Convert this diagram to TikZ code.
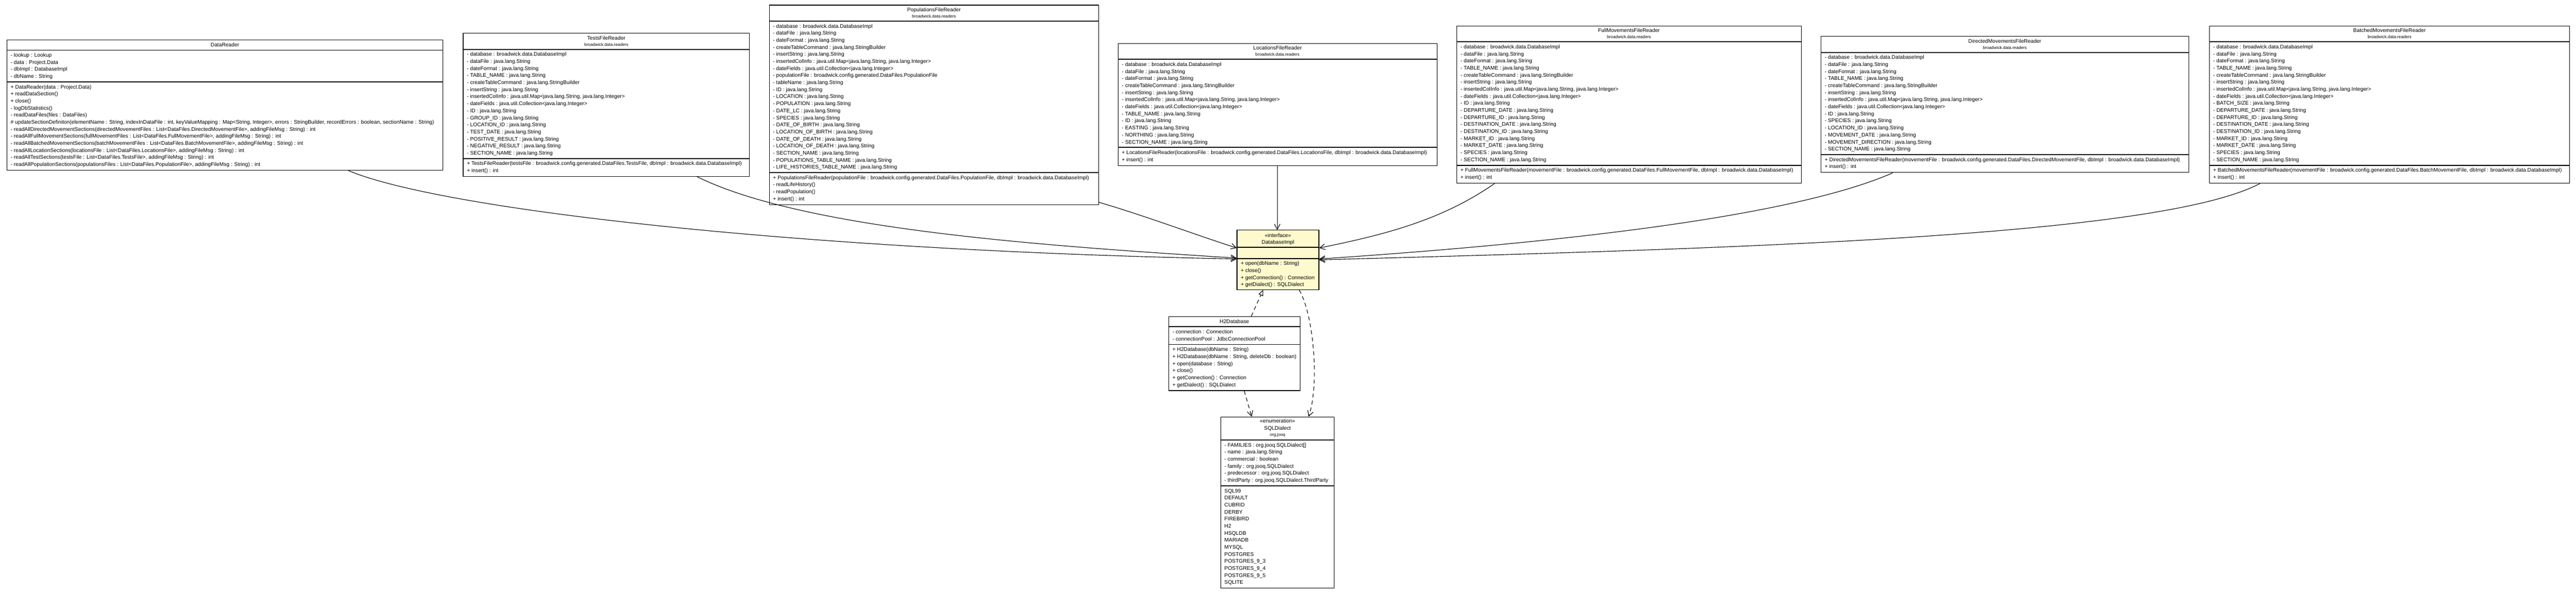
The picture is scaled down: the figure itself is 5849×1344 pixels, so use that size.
\documentclass[tikz,border=0pt]{standalone}
\usepackage{fontspec}
\setmainfont{Liberation Sans}
\usetikzlibrary{arrows.meta,calc}
\newcommand\sx{\strut}
\definecolor{ifyellow}{RGB}{255,250,205}
\begin{document}
\begin{tikzpicture}[x=1pt,y=-1pt,
  cls/.style={draw=black, line width=1.3pt, anchor=north west, inner sep=0pt, fill=white},
  dv/.style={line width=2.2pt},
  ttl/.style={anchor=base, inner sep=0pt, font=\fontsize{12}{16}\selectfont},
  pkg/.style={anchor=base, inner sep=0pt, font=\fontsize{9.6}{12}\selectfont},
  sec/.style={anchor=north west, inner sep=0pt, align=left, font=\fontsize{12}{16}\selectfont},
  assoc/.style={line width=1.3pt, -{Straight Barb[length=12pt,width=13pt,line width=1.3pt]}},
  dep/.style={assoc, dash pattern=on 9pt off 7pt},
  real/.style={line width=1.3pt, dash pattern=on 9pt off 7pt, -{Triangle[open,length=13pt,width=11pt,fill=white,line width=1.3pt]}}
]
\fill[white] (0,0) rectangle (5849,1344);
\useasboundingbox (0,0) rectangle (5849,1344);

% ---------------- DataReader
\node[cls,minimum width=990pt,minimum height=296pt] (dr) at (15,90) {};
\draw[dv] ([yshift=-24pt]dr.north west) -- ([yshift=-24pt]dr.north east);
\draw[dv] ([yshift=-96pt]dr.north west) -- ([yshift=-96pt]dr.north east);
\node[ttl] (dr-t) at ([yshift=-16.3pt]dr.north) {DataReader};
\node[sec] (dr-f) at ([xshift=9pt,yshift=-28pt]dr.north west) {\sx - lookup : Lookup\\\sx - data : Project.Data\\\sx - dbImpl : DatabaseImpl\\\sx - dbName : String};
\node[sec] (dr-m) at ([xshift=9pt,yshift=-100pt]dr.north west) {\sx + DataReader(data : Project.Data)\\
\sx + readDataSection()\\
\sx + close()\\
\sx - logDbStatistics()\\
\sx - readDataFiles(files : DataFiles)\\
\sx \# updateSectionDefiniton(elementName : String, indexInDataFile : int, keyValueMapping : Map<String, Integer>, errors : StringBuilder, recordErrors : boolean, sectionName : String)\\
\sx - readAllDirectedMovementSections(directedMovementFiles : List<DataFiles.DirectedMovementFile>, addingFileMsg : String) : int\\
\sx - readAllFullMovementSections(fullMovementFiles : List<DataFiles.FullMovementFile>, addingFileMsg : String) : int\\
\sx - readAllBatchedMovementSections(batchMovementFiles : List<DataFiles.BatchMovementFile>, addingFileMsg : String) : int\\
\sx - readAllLocationSections(locationsFile : List<DataFiles.LocationsFile>, addingFileMsg : String) : int\\
\sx - readAllTestSections(testsFile : List<DataFiles.TestsFile>, addingFileMsg : String) : int\\
\sx - readAllPopulationSections(populationsFiles : List<DataFiles.PopulationFile>, addingFileMsg : String) : int};

% ---------------- TestsFileReader
\node[cls,minimum width=650pt,minimum height=325pt] (tf) at (1051,75) {};
\draw[dv] ([yshift=-37pt]tf.north west) -- ([yshift=-37pt]tf.north east);
\draw[dv] ([yshift=-285pt]tf.north west) -- ([yshift=-285pt]tf.north east);
\node[ttl] (tf-t) at ([yshift=-15.3pt]tf.north) {TestsFileReader};
\node[pkg] (tf-p) at ([yshift=-29.4pt]tf.north) {broadwick.data.readers};
\node[sec] (tf-f) at ([xshift=9pt,yshift=-41pt]tf.north west) {\sx - database : broadwick.data.DatabaseImpl\\
\sx - dataFile : java.lang.String\\
\sx - dateFormat : java.lang.String\\
\sx - TABLE\_NAME : java.lang.String\\
\sx - createTableCommand : java.lang.StringBuilder\\
\sx - insertString : java.lang.String\\
\sx - insertedColInfo : java.util.Map<java.lang.String, java.lang.Integer>\\
\sx - dateFields : java.util.Collection<java.lang.Integer>\\
\sx - ID : java.lang.String\\
\sx - GROUP\_ID : java.lang.String\\
\sx - LOCATION\_ID : java.lang.String\\
\sx - TEST\_DATE : java.lang.String\\
\sx - POSITIVE\_RESULT : java.lang.String\\
\sx - NEGATIVE\_RESULT : java.lang.String\\
\sx - SECTION\_NAME : java.lang.String};
\node[sec] (tf-m) at ([xshift=9pt,yshift=-289pt]tf.north west) {\sx + TestsFileReader(testsFile : broadwick.config.generated.DataFiles.TestsFile, dbImpl : broadwick.data.DatabaseImpl)\\
\sx + insert() : int};

% ---------------- PopulationsFileReader
\node[cls,minimum width=748pt,minimum height=453pt] (pf) at (1746,11) {};
\draw[dv] ([yshift=-37pt]pf.north west) -- ([yshift=-37pt]pf.north east);
\draw[dv] ([yshift=-381pt]pf.north west) -- ([yshift=-381pt]pf.north east);
\node[ttl] (pf-t) at ([yshift=-15.3pt]pf.north) {PopulationsFileReader};
\node[pkg] (pf-p) at ([yshift=-29.4pt]pf.north) {broadwick.data.readers};
\node[sec] (pf-f) at ([xshift=9pt,yshift=-41pt]pf.north west) {\sx - database : broadwick.data.DatabaseImpl\\
\sx - dataFile : java.lang.String\\
\sx - dateFormat : java.lang.String\\
\sx - createTableCommand : java.lang.StringBuilder\\
\sx - insertString : java.lang.String\\
\sx - insertedColInfo : java.util.Map<java.lang.String, java.lang.Integer>\\
\sx - dateFields : java.util.Collection<java.lang.Integer>\\
\sx - populationFile : broadwick.config.generated.DataFiles.PopulationFile\\
\sx - tableName : java.lang.String\\
\sx - ID : java.lang.String\\
\sx - LOCATION : java.lang.String\\
\sx - POPULATION : java.lang.String\\
\sx - DATE\_LC : java.lang.String\\
\sx - SPECIES : java.lang.String\\
\sx - DATE\_OF\_BIRTH : java.lang.String\\
\sx - LOCATION\_OF\_BIRTH : java.lang.String\\
\sx - DATE\_OF\_DEATH : java.lang.String\\
\sx - LOCATION\_OF\_DEATH : java.lang.String\\
\sx - SECTION\_NAME : java.lang.String\\
\sx - POPULATIONS\_TABLE\_NAME : java.lang.String\\
\sx - LIFE\_HISTORIES\_TABLE\_NAME : java.lang.String};
\node[sec] (pf-m) at ([xshift=9pt,yshift=-385pt]pf.north west) {\sx + PopulationsFileReader(populationFile : broadwick.config.generated.DataFiles.PopulationFile, dbImpl : broadwick.data.DatabaseImpl)\\
\sx - readLifeHistory()\\
\sx - readPopulation()\\
\sx + insert() : int};

% ---------------- LocationsFileReader
\node[cls,minimum width=724pt,minimum height=277pt] (lf) at (2538,98) {};
\draw[dv] ([yshift=-37pt]lf.north west) -- ([yshift=-37pt]lf.north east);
\draw[dv] ([yshift=-237pt]lf.north west) -- ([yshift=-237pt]lf.north east);
\node[ttl] (lf-t) at ([yshift=-15.3pt]lf.north) {LocationsFileReader};
\node[pkg] (lf-p) at ([yshift=-29.4pt]lf.north) {broadwick.data.readers};
\node[sec] (lf-f) at ([xshift=9pt,yshift=-41pt]lf.north west) {\sx - database : broadwick.data.DatabaseImpl\\
\sx - dataFile : java.lang.String\\
\sx - dateFormat : java.lang.String\\
\sx - createTableCommand : java.lang.StringBuilder\\
\sx - insertString : java.lang.String\\
\sx - insertedColInfo : java.util.Map<java.lang.String, java.lang.Integer>\\
\sx - dateFields : java.util.Collection<java.lang.Integer>\\
\sx - TABLE\_NAME : java.lang.String\\
\sx - ID : java.lang.String\\
\sx - EASTING : java.lang.String\\
\sx - NORTHING : java.lang.String\\
\sx - SECTION\_NAME : java.lang.String};
\node[sec] (lf-m) at ([xshift=9pt,yshift=-241pt]lf.north west) {\sx + LocationsFileReader(locationsFile : broadwick.config.generated.DataFiles.LocationsFile, dbImpl : broadwick.data.DatabaseImpl)\\
\sx + insert() : int};

% ---------------- FullMovementsFileReader
\node[cls,minimum width=782pt,minimum height=357pt] (ff) at (3307,58) {};
\draw[dv] ([yshift=-37pt]ff.north west) -- ([yshift=-37pt]ff.north east);
\draw[dv] ([yshift=-317pt]ff.north west) -- ([yshift=-317pt]ff.north east);
\node[ttl] (ff-t) at ([yshift=-15.3pt]ff.north) {FullMovementsFileReader};
\node[pkg] (ff-p) at ([yshift=-29.4pt]ff.north) {broadwick.data.readers};
\node[sec] (ff-f) at ([xshift=9pt,yshift=-41pt]ff.north west) {\sx - database : broadwick.data.DatabaseImpl\\
\sx - dataFile : java.lang.String\\
\sx - dateFormat : java.lang.String\\
\sx - TABLE\_NAME : java.lang.String\\
\sx - createTableCommand : java.lang.StringBuilder\\
\sx - insertString : java.lang.String\\
\sx - insertedColInfo : java.util.Map<java.lang.String, java.lang.Integer>\\
\sx - dateFields : java.util.Collection<java.lang.Integer>\\
\sx - ID : java.lang.String\\
\sx - DEPARTURE\_DATE : java.lang.String\\
\sx - DEPARTURE\_ID : java.lang.String\\
\sx - DESTINATION\_DATE : java.lang.String\\
\sx - DESTINATION\_ID : java.lang.String\\
\sx - MARKET\_ID : java.lang.String\\
\sx - MARKET\_DATE : java.lang.String\\
\sx - SPECIES : java.lang.String\\
\sx - SECTION\_NAME : java.lang.String};
\node[sec] (ff-m) at ([xshift=9pt,yshift=-321pt]ff.north west) {\sx + FullMovementsFileReader(movementFile : broadwick.config.generated.DataFiles.FullMovementFile, dbImpl : broadwick.data.DatabaseImpl)\\
\sx + insert() : int};

% ---------------- DirectedMovementsFileReader
\node[cls,minimum width=835pt,minimum height=309pt] (df) at (4134,82) {};
\draw[dv] ([yshift=-37pt]df.north west) -- ([yshift=-37pt]df.north east);
\draw[dv] ([yshift=-269pt]df.north west) -- ([yshift=-269pt]df.north east);
\node[ttl] (df-t) at ([yshift=-15.3pt]df.north) {DirectedMovementsFileReader};
\node[pkg] (df-p) at ([yshift=-29.4pt]df.north) {broadwick.data.readers};
\node[sec] (df-f) at ([xshift=9pt,yshift=-41pt]df.north west) {\sx - database : broadwick.data.DatabaseImpl\\
\sx - dataFile : java.lang.String\\
\sx - dateFormat : java.lang.String\\
\sx - TABLE\_NAME : java.lang.String\\
\sx - createTableCommand : java.lang.StringBuilder\\
\sx - insertString : java.lang.String\\
\sx - insertedColInfo : java.util.Map<java.lang.String, java.lang.Integer>\\
\sx - dateFields : java.util.Collection<java.lang.Integer>\\
\sx - ID : java.lang.String\\
\sx - SPECIES : java.lang.String\\
\sx - LOCATION\_ID : java.lang.String\\
\sx - MOVEMENT\_DATE : java.lang.String\\
\sx - MOVEMENT\_DIRECTION : java.lang.String\\
\sx - SECTION\_NAME : java.lang.String};
\node[sec] (df-m) at ([xshift=9pt,yshift=-273pt]df.north west) {\sx + DirectedMovementsFileReader(movementFile : broadwick.config.generated.DataFiles.DirectedMovementFile, dbImpl : broadwick.data.DatabaseImpl)\\
\sx + insert() : int};

% ---------------- BatchedMovementsFileReader
\node[cls,minimum width=818pt,minimum height=357pt] (bf) at (5016,58) {};
\draw[dv] ([yshift=-37pt]bf.north west) -- ([yshift=-37pt]bf.north east);
\draw[dv] ([yshift=-317pt]bf.north west) -- ([yshift=-317pt]bf.north east);
\node[ttl] (bf-t) at ([yshift=-15.3pt]bf.north) {BatchedMovementsFileReader};
\node[pkg] (bf-p) at ([yshift=-29.4pt]bf.north) {broadwick.data.readers};
\node[sec] (bf-f) at ([xshift=9pt,yshift=-41pt]bf.north west) {\sx - database : broadwick.data.DatabaseImpl\\
\sx - dataFile : java.lang.String\\
\sx - dateFormat : java.lang.String\\
\sx - TABLE\_NAME : java.lang.String\\
\sx - createTableCommand : java.lang.StringBuilder\\
\sx - insertString : java.lang.String\\
\sx - insertedColInfo : java.util.Map<java.lang.String, java.lang.Integer>\\
\sx - dateFields : java.util.Collection<java.lang.Integer>\\
\sx - BATCH\_SIZE : java.lang.String\\
\sx - DEPARTURE\_DATE : java.lang.String\\
\sx - DEPARTURE\_ID : java.lang.String\\
\sx - DESTINATION\_DATE : java.lang.String\\
\sx - DESTINATION\_ID : java.lang.String\\
\sx - MARKET\_ID : java.lang.String\\
\sx - MARKET\_DATE : java.lang.String\\
\sx - SPECIES : java.lang.String\\
\sx - SECTION\_NAME : java.lang.String};
\node[sec] (bf-m) at ([xshift=9pt,yshift=-321pt]bf.north west) {\sx + BatchedMovementsFileReader(movementFile : broadwick.config.generated.DataFiles.BatchMovementFile, dbImpl : broadwick.data.DatabaseImpl)\\
\sx + insert() : int};

% ---------------- DatabaseImpl (interface)
\node[cls,fill=ifyellow,minimum width=186pt,minimum height=135pt] (db) at (2808,522) {};
\draw[dv] ([yshift=-40pt]db.north west) -- ([yshift=-40pt]db.north east);
\draw[dv] ([yshift=-65pt]db.north west) -- ([yshift=-65pt]db.north east);
\node[ttl] (db-s) at ([yshift=-16.3pt]db.north) {«interface»};
\node[ttl] (db-t) at ([yshift=-32.3pt]db.north) {DatabaseImpl};
\node[sec] (db-m) at ([xshift=9pt,yshift=-69pt]db.north west) {\sx + open(dbName : String)\\
\sx + close()\\
\sx + getConnection() : Connection\\
\sx + getDialect() : SQLDialect};

% ---------------- H2Database
\node[cls,minimum width=298pt,minimum height=168pt] (h2) at (2653,718) {};
\draw[dv] ([yshift=-24pt]h2.north west) -- ([yshift=-24pt]h2.north east);
\draw[dv] ([yshift=-64pt]h2.north west) -- ([yshift=-64pt]h2.north east);
\node[ttl] (h2-t) at ([yshift=-16.3pt]h2.north) {H2Database};
\node[sec] (h2-f) at ([xshift=9pt,yshift=-28pt]h2.north west) {\sx - connection : Connection\\
\sx - connectionPool : JdbcConnectionPool};
\node[sec] (h2-m) at ([xshift=9pt,yshift=-68pt]h2.north west) {\sx + H2Database(dbName : String)\\
\sx + H2Database(dbName : String, deleteDb : boolean)\\
\sx + open(database : String)\\
\sx + close()\\
\sx + getConnection() : Connection\\
\sx + getDialect() : SQLDialect};

% ---------------- SQLDialect (enumeration)
\node[cls,minimum width=258pt,minimum height=389pt] (sq) at (2771,946) {};
\draw[dv] ([yshift=-53pt]sq.north west) -- ([yshift=-53pt]sq.north east);
\draw[dv] ([yshift=-157pt]sq.north west) -- ([yshift=-157pt]sq.north east);
\node[ttl] (sq-s) at ([yshift=-14.3pt]sq.north) {«enumeration»};
\node[ttl] (sq-t) at ([yshift=-30.3pt]sq.north) {SQLDialect};
\node[pkg] (sq-p) at ([yshift=-44.4pt]sq.north) {org.jooq};
\node[sec] (sq-f) at ([xshift=9pt,yshift=-57pt]sq.north west) {\sx - FAMILIES : org.jooq.SQLDialect[]\\
\sx - name : java.lang.String\\
\sx - commercial : boolean\\
\sx - family : org.jooq.SQLDialect\\
\sx - predecessor : org.jooq.SQLDialect\\
\sx - thirdParty : org.jooq.SQLDialect.ThirdParty};
\node[sec] (sq-m) at ([xshift=9pt,yshift=-161pt]sq.north west) {\sx SQL99\\\sx DEFAULT\\\sx CUBRID\\\sx DERBY\\\sx FIREBIRD\\\sx H2\\\sx HSQLDB\\\sx MARIADB\\\sx MYSQL\\\sx POSTGRES\\\sx POSTGRES\_9\_3\\\sx POSTGRES\_9\_4\\\sx POSTGRES\_9\_5\\\sx SQLITE};

% ---------------- connectors
\draw[assoc] ([xshift=776pt]dr.south west) .. controls (1000,475) and (1800,568) .. ([yshift=-66pt]db.north west);
\draw[assoc] ([xshift=532pt]tf.south west) .. controls (1833,525) and (2408,560) .. ([yshift=-64pt]db.north west);
\draw[assoc] ([yshift=6pt]pf.south east) .. controls (2600,490) and (2720,535) .. ([yshift=-41pt]db.north west);
\draw[assoc] ([xshift=362pt]lf.south west) -- ([xshift=92pt]db.north west);
\draw[assoc] ([xshift=87pt]ff.south west) .. controls (3274,500) and (3144,533) .. ([yshift=-41pt]db.north east);
\draw[assoc] ([xshift=164pt]df.south west) .. controls (4048,502) and (3444,558) .. ([yshift=-66pt]db.north east);
\draw[assoc] ([xshift=116pt]bf.south west) .. controls (4900,540) and (3894,565) .. ([yshift=-68pt]db.north east);

\draw[real] ([xshift=188pt]h2.north west) -- ([xshift=60pt]db.south west);
\draw[dep] ([xshift=172pt]h2.south west) -- ([xshift=71pt]sq.north west);
\draw[dep] ([xshift=142pt]db.south west) .. controls (2985,720) and (2995,880) .. ([xshift=200pt]sq.north west);
\end{tikzpicture}
\end{document}
